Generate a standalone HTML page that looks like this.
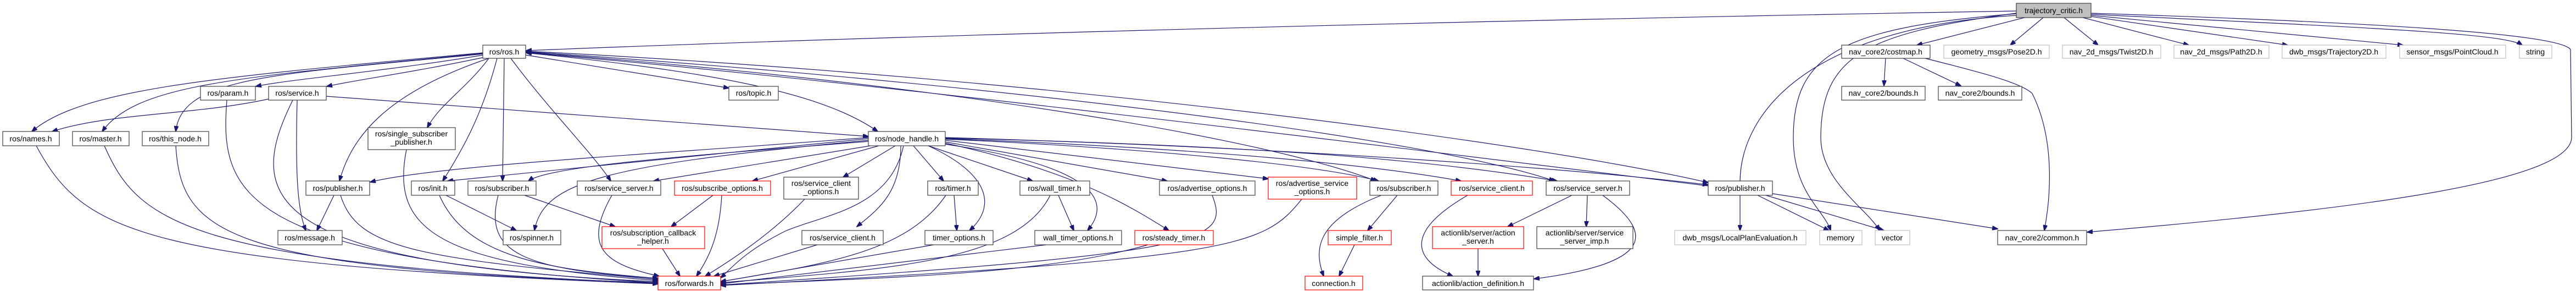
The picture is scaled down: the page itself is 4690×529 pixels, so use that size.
<!DOCTYPE html>
<html><head><meta charset="utf-8"><style>
html,body{margin:0;padding:0;background:#fff;}
svg{display:block;}
text{font-family:"Liberation Sans",Arial,sans-serif;font-size:14px;fill:#000;text-anchor:middle;}
.e{fill:none;stroke:#191970;stroke-width:1.2;marker-end:url(#a);}
.n{fill:#fff;stroke:#404040;stroke-width:1.2;}
.r{fill:#fff;stroke:#ff0000;stroke-width:1.2;}
.g{fill:#fff;stroke:#bfbfbf;stroke-width:1.2;}
</style></head><body>
<svg width="4690" height="529" viewBox="0 0 4690 529" xmlns="http://www.w3.org/2000/svg">
<defs><marker id="a" markerWidth="11" markerHeight="8" refX="10" refY="4" orient="auto" markerUnits="userSpaceOnUse"><path d="M0,0 L11,4 L0,8 z" fill="#191970" stroke="#191970"/></marker></defs>
<g>
<path class="e" d="M3671,20 C2500,40 1500,70 958,92"/>
<path class="e" d="M3110,338 C2400,250 1500,140 958,96"/>
<path class="e" d="M879,96 C400,140 150,160 58,239"/>
<path class="e" d="M879,97 C450,140 250,150 186,239"/>
<path class="e" d="M880,98 C500,135 330,140 320,239"/>
<path class="e" d="M880,100 C700,130 520,145 466,157"/>
<path class="e" d="M882,104 C760,130 650,145 595,157"/>
<path class="e" d="M890,106 C700,170 640,250 618,329"/>
<path class="e" d="M890,106 C850,160 800,190 778,232"/>
<path class="e" d="M905,106 C880,200 850,260 806,329"/>
<path class="e" d="M918,106 L915,329"/>
<path class="e" d="M930,106 C1000,200 1080,280 1112,329"/>
<path class="e" d="M957,100 L1327,160"/>
<path class="e" d="M957,96 C1300,130 1500,170 1598,239"/>
<path class="e" d="M957,95 C1700,150 2300,250 2505,329"/>
<path class="e" d="M957,94 C1800,150 2600,250 2830,329"/>
<path class="e" d="M957,93 C1900,140 2800,260 3110,332"/>
<path class="e" d="M489,180 C350,210 200,205 95,239"/>
<path class="e" d="M541,182 C538,300 540,380 557,419"/>
<path class="e" d="M533,182 C450,350 460,480 1198,512"/>
<path class="e" d="M594,175 L1581,248"/>
<path class="e" d="M413,182 C400,350 430,470 1198,514"/>
<path class="e" d="M66,265 C150,420 250,480 1198,516"/>
<path class="e" d="M190,265 C250,400 330,480 1198,515"/>
<path class="e" d="M320,265 C330,420 400,490 1198,514"/>
<path class="e" d="M740,272 C710,420 800,480 1198,510"/>
<path class="e" d="M608,355 L577,419"/>
<path class="e" d="M620,355 C650,450 750,470 1198,508"/>
<path class="e" d="M812,355 L940,419"/>
<path class="e" d="M800,355 C850,470 1000,490 1198,506"/>
<path class="e" d="M955,355 L1120,412"/>
<path class="e" d="M907,355 C880,460 950,490 1198,506"/>
<path class="e" d="M1114,355 C1060,450 1100,480 1200,502"/>
<path class="e" d="M1298,355 L1222,412"/>
<path class="e" d="M1314,355 C1310,430 1290,470 1268,502"/>
<path class="e" d="M1206,452 L1238,502"/>
<path class="e" d="M1465,362 C1400,430 1320,480 1284,502"/>
<path class="e" d="M1488,445 L1300,502"/>
<path class="e" d="M1581,250 C1200,280 800,300 674,331"/>
<path class="e" d="M1581,252 L815,329"/>
<path class="e" d="M1581,257 C1300,280 1000,300 962,329"/>
<path class="e" d="M1581,255 C1100,300 990,330 973,419"/>
<path class="e" d="M1585,265 L1190,329"/>
<path class="e" d="M1600,265 L1370,329"/>
<path class="e" d="M1630,265 L1535,322"/>
<path class="e" d="M1640,265 C1640,350 1600,380 1560,412"/>
<path class="e" d="M1645,265 C1620,380 1500,390 1430,420 C1350,460 1330,490 1312,505"/>
<path class="e" d="M1663,265 L1718,329"/>
<path class="e" d="M1690,265 C1810,320 1810,380 1765,419"/>
<path class="e" d="M1690,265 L1880,329"/>
<path class="e" d="M1720,262 C1980,300 2030,360 1980,419"/>
<path class="e" d="M1720,260 C1950,310 2050,370 2128,419"/>
<path class="e" d="M1721,258 L2125,329"/>
<path class="e" d="M1721,255 L2309,325"/>
<path class="e" d="M1721,253 C2100,270 2400,300 2510,329"/>
<path class="e" d="M1721,252 C2200,270 2500,300 2660,329"/>
<path class="e" d="M1721,251 C2300,265 2600,290 2835,329"/>
<path class="e" d="M1721,250 C2400,270 2900,310 3110,336"/>
<path class="e" d="M1737,355 L1742,419"/>
<path class="e" d="M1722,355 C1650,460 1500,480 1312,512"/>
<path class="e" d="M1927,355 L1955,419"/>
<path class="e" d="M1912,355 C1850,480 1600,490 1312,514"/>
<path class="e" d="M1700,445 L1312,512"/>
<path class="e" d="M1905,445 L1312,516"/>
<path class="e" d="M2090,445 C1900,500 1600,505 1312,518"/>
<path class="e" d="M2207,355 C2240,440 2200,460 1312,518"/>
<path class="e" d="M2370,362 C2300,450 2250,470 1312,519"/>
<path class="e" d="M2515,355 C2400,400 2390,450 2410,502"/>
<path class="e" d="M2544,355 L2490,419"/>
<path class="e" d="M2466,445 L2438,502"/>
<path class="e" d="M2672,355 C2560,420 2570,470 2645,502"/>
<path class="e" d="M2862,355 L2745,412"/>
<path class="e" d="M2890,355 L2888,412"/>
<path class="e" d="M2918,355 C3020,430 3000,480 2793,507"/>
<path class="e" d="M2691,452 L2691,502"/>
<path class="e" d="M3168,355 L3168,419"/>
<path class="e" d="M3200,355 L3330,419"/>
<path class="e" d="M3215,355 L3430,419"/>
<path class="e" d="M3227,352 L3637,416"/>
<path class="e" d="M3686,32 L3490,82"/>
<path class="e" d="M3720,32 L3660,82"/>
<path class="e" d="M3758,32 L3820,82"/>
<path class="e" d="M3792,32 L3985,82"/>
<path class="e" d="M3807,30 L4165,82"/>
<path class="e" d="M3807,28 L4375,82"/>
<path class="e" d="M3807,26 C4300,50 4560,60 4592,82"/>
<path fill="none" stroke="#191970" stroke-width="1.2" d="M3671,28 C3300,50 3170,200 3168,329"/>
<path class="e" d="M3671,25 C3350,50 3265,100 3265,250 C3265,350 3320,380 3333,419"/>
<path class="e" d="M3671,24 C3400,60 3315,100 3315,250 C3315,330 3400,380 3422,419"/>
<path class="e" d="M3807,24 C4300,40 4660,60 4680,90 L4682,250 C4680,330 4300,380 3800,422"/>
<path class="e" d="M3433,106 L3430,156"/>
<path class="e" d="M3465,106 L3570,156"/>
<path class="e" d="M3505,106 C3600,130 3680,150 3700,170 C3740,250 3735,350 3722,419"/>
</g>
<g>
<rect x="3671" y="6" width="136" height="26" fill="#bfbfbf" stroke="#404040" stroke-width="1.2"/><text x="3739" y="24">trajectory_critic.h</text>
<rect class="n" x="879" y="82" width="78" height="24"/><text x="918" y="99">ros/ros.h</text>
<rect class="n" x="3353" y="82" width="161" height="24"/><text x="3433" y="99">nav_core2/costmap.h</text>
<rect class="g" x="3539" y="82" width="192" height="24"/><text x="3635" y="99">geometry_msgs/Pose2D.h</text>
<rect class="g" x="3755" y="82" width="179" height="24"/><text x="3844" y="99">nav_2d_msgs/Twist2D.h</text>
<rect class="g" x="3958" y="82" width="173" height="24"/><text x="4044" y="99">nav_2d_msgs/Path2D.h</text>
<rect class="g" x="4155" y="82" width="189" height="24"/><text x="4249" y="99">dwb_msgs/Trajectory2D.h</text>
<rect class="g" x="4369" y="82" width="193" height="24"/><text x="4465" y="99">sensor_msgs/PointCloud.h</text>
<rect class="g" x="4587" y="82" width="59" height="24"/><text x="4616" y="99">string</text>
<rect class="n" x="365" y="157" width="100" height="25"/><text x="415" y="174">ros/param.h</text>
<rect class="n" x="489" y="157" width="105" height="25"/><text x="541" y="174">ros/service.h</text>
<rect class="n" x="1327" y="157" width="90" height="25"/><text x="1372" y="174">ros/topic.h</text>
<rect class="n" x="3353" y="157" width="152" height="25"/><text x="3429" y="174">nav_core2/bounds.h</text>
<rect class="n" x="3529" y="157" width="152" height="25"/><text x="3605" y="174">nav_core2/bounds.h</text>
<rect class="n" x="5" y="239" width="103" height="26"/><text x="56" y="257">ros/names.h</text>
<rect class="n" x="132" y="239" width="103" height="26"/><text x="183" y="257">ros/master.h</text>
<rect class="n" x="259" y="239" width="121" height="26"/><text x="319" y="257">ros/this_node.h</text>
<rect class="n" x="670" y="232" width="159" height="40"/><text x="749" y="248">ros/single_subscriber</text><text x="749" y="263">_publisher.h</text>
<rect class="n" x="1581" y="239" width="140" height="26"/><text x="1651" y="257">ros/node_handle.h</text>
<rect class="n" x="557" y="329" width="116" height="26"/><text x="615" y="347">ros/publisher.h</text>
<rect class="n" x="749" y="329" width="79" height="26"/><text x="788" y="347">ros/init.h</text>
<rect class="n" x="852" y="329" width="124" height="26"/><text x="914" y="347">ros/subscriber.h</text>
<rect class="n" x="1051" y="329" width="152" height="26"/><text x="1127" y="347">ros/service_server.h</text>
<rect class="r" x="1228" y="329" width="175" height="26"/><text x="1315" y="347">ros/subscribe_options.h</text>
<rect class="n" x="1427" y="322" width="136" height="40"/><text x="1495" y="338">ros/service_client</text><text x="1495" y="353">_options.h</text>
<rect class="n" x="1689" y="329" width="92" height="26"/><text x="1735" y="347">ros/timer.h</text>
<rect class="n" x="1857" y="329" width="127" height="26"/><text x="1920" y="347">ros/wall_timer.h</text>
<rect class="n" x="2111" y="329" width="174" height="26"/><text x="2198" y="347">ros/advertise_options.h</text>
<rect class="r" x="2309" y="322" width="161" height="40"/><text x="2389" y="338">ros/advertise_service</text><text x="2389" y="353">_options.h</text>
<rect class="n" x="2494" y="329" width="124" height="26"/><text x="2556" y="347">ros/subscriber.h</text>
<rect class="r" x="2642" y="329" width="148" height="26"/><text x="2716" y="347">ros/service_client.h</text>
<rect class="n" x="2815" y="329" width="152" height="26"/><text x="2891" y="347">ros/service_server.h</text>
<rect class="n" x="3110" y="329" width="117" height="26"/><text x="3168" y="347">ros/publisher.h</text>
<rect class="n" x="506" y="419" width="117" height="26"/><text x="564" y="437">ros/message.h</text>
<rect class="n" x="916" y="419" width="105" height="26"/><text x="968" y="437">ros/spinner.h</text>
<rect class="r" x="1096" y="412" width="187" height="40"/><text x="1189" y="428">ros/subscription_callback</text><text x="1189" y="443">_helper.h</text>
<rect class="n" x="1460" y="419" width="148" height="26"/><text x="1534" y="437">ros/service_client.h</text>
<rect class="n" x="1684" y="419" width="124" height="26"/><text x="1746" y="437">timer_options.h</text>
<rect class="n" x="1884" y="419" width="158" height="26"/><text x="1963" y="437">wall_timer_options.h</text>
<rect class="r" x="2066" y="419" width="143" height="26"/><text x="2137" y="437">ros/steady_timer.h</text>
<rect class="r" x="2418" y="419" width="115" height="26"/><text x="2475" y="437">simple_filter.h</text>
<rect class="r" x="2608" y="412" width="166" height="40"/><text x="2691" y="428">actionlib/server/action</text><text x="2691" y="443">_server.h</text>
<rect class="n" x="2798" y="412" width="175" height="40"/><text x="2885" y="428">actionlib/server/service</text><text x="2885" y="443">_server_imp.h</text>
<rect class="g" x="3049" y="419" width="239" height="26"/><text x="3168" y="437">dwb_msgs/LocalPlanEvaluation.h</text>
<rect class="g" x="3313" y="419" width="77" height="26"/><text x="3351" y="437">memory</text>
<rect class="g" x="3414" y="419" width="63" height="26"/><text x="3445" y="437">vector</text>
<rect class="n" x="3637" y="419" width="162" height="26"/><text x="3718" y="437">nav_core2/common.h</text>
<rect class="r" x="1198" y="502" width="114" height="25"/><text x="1255" y="520">ros/forwards.h</text>
<rect class="r" x="2376" y="502" width="105" height="25"/><text x="2428" y="520">connection.h</text>
<rect class="n" x="2590" y="502" width="202" height="25"/><text x="2691" y="520">actionlib/action_definition.h</text>
</g>
</svg>
</body></html>
